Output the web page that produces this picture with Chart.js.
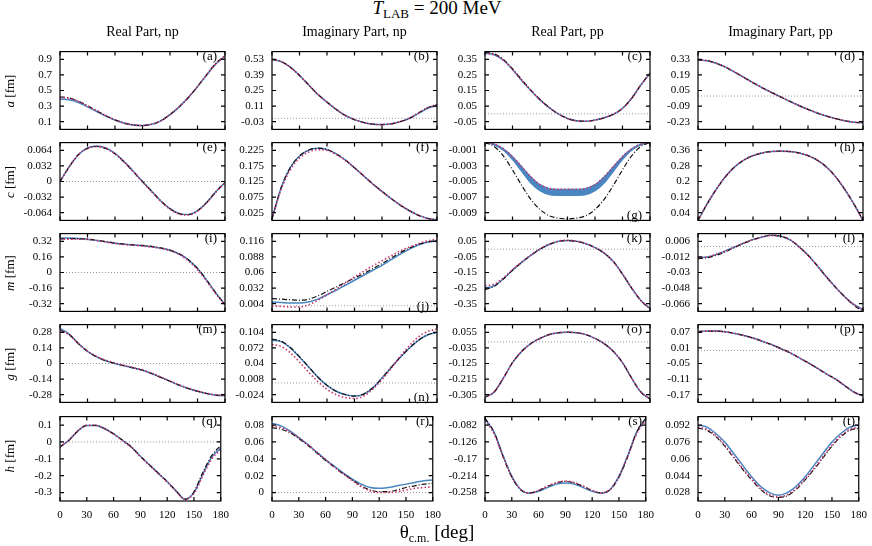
<!DOCTYPE html>
<html>
<head>
<meta charset="utf-8">
<script src="https://cdn.jsdelivr.net/npm/chart.js@4.4.0/dist/chart.umd.min.js"></script>
<style>
  body { margin: 0; background: #fff; width: 872px; height: 546px; position: relative; overflow: hidden;
         font-family: "Liberation Serif", "DejaVu Serif", serif; color: #000; }
  canvas { position: absolute; }
  .lbl { position: absolute; white-space: nowrap; line-height: 1; }
</style>
</head>
<body>
<script>
// angles (deg)
const theta = [0, 10, 20, 30, 40, 50, 60, 70, 80, 90, 100, 110, 120, 130, 140, 150, 160, 170, 180];

// (a) Re a, np
const aTicks = [0.1, 0.3, 0.5, 0.7, 0.9];
const aBlue  = [0.39, 0.38, 0.345, 0.29, 0.23, 0.17, 0.12, 0.08, 0.057, 0.05, 0.065, 0.11, 0.19, 0.29, 0.41, 0.55, 0.70, 0.84, 0.94];
const aRed   = [0.41, 0.40, 0.36, 0.30, 0.24, 0.175, 0.123, 0.082, 0.057, 0.05, 0.065, 0.11, 0.19, 0.29, 0.41, 0.55, 0.70, 0.845, 0.945];
const aBlack = [0.42, 0.405, 0.365, 0.305, 0.24, 0.176, 0.123, 0.082, 0.057, 0.05, 0.065, 0.11, 0.19, 0.29, 0.41, 0.55, 0.705, 0.85, 0.95];
// (b) Im a, np
const bTicks = [-0.03, 0.11, 0.25, 0.39, 0.53];
const bBlue  = [0.53, 0.51, 0.46, 0.385, 0.30, 0.215, 0.145, 0.08, 0.025, -0.012, -0.038, -0.053, -0.057, -0.05, -0.03, 0.0, 0.045, 0.09, 0.112];
const bRed   = [0.53, 0.51, 0.46, 0.385, 0.30, 0.215, 0.145, 0.08, 0.025, -0.012, -0.038, -0.053, -0.057, -0.05, -0.03, 0.0, 0.05, 0.095, 0.12];
const bBlack = [0.53, 0.51, 0.46, 0.385, 0.30, 0.215, 0.145, 0.08, 0.025, -0.012, -0.038, -0.053, -0.057, -0.05, -0.03, 0.0, 0.05, 0.097, 0.125];
// (c) Re a, pp
const cTicks = [-0.05, 0.05, 0.15, 0.25, 0.35];
const cBlue  = [0.39, 0.38, 0.345, 0.285, 0.215, 0.15, 0.09, 0.04, 0.0, -0.03, -0.045, -0.048, -0.04, -0.025, -0.003, 0.035, 0.10, 0.185, 0.26];
const cRed   = cBlue;
const cBlack = [0.395, 0.385, 0.35, 0.29, 0.22, 0.153, 0.092, 0.041, 0.0, -0.03, -0.045, -0.048, -0.04, -0.025, -0.003, 0.035, 0.10, 0.185, 0.262];
// (d) Im a, pp
const dTicks = [-0.23, -0.09, 0.05, 0.19, 0.33];
const dBlue  = [0.325, 0.318, 0.295, 0.26, 0.215, 0.168, 0.12, 0.075, 0.033, -0.007, -0.047, -0.085, -0.12, -0.152, -0.18, -0.203, -0.222, -0.235, -0.24];
const dRed   = dBlue;
const dBlack = dBlue;
// (e) Re c, np
const eTicks = [-0.064, -0.032, 0, 0.032, 0.064];
const eBlue  = [0.0, 0.03, 0.055, 0.069, 0.073, 0.069, 0.058, 0.041, 0.021, 0.0, -0.02, -0.04, -0.056, -0.066, -0.068, -0.06, -0.043, -0.021, -0.002];
const eRed   = [0.0, 0.03, 0.055, 0.068, 0.072, 0.068, 0.057, 0.040, 0.020, -0.001, -0.021, -0.041, -0.057, -0.067, -0.069, -0.061, -0.044, -0.022, -0.003];
const eBlack = [0.0, 0.03, 0.055, 0.068, 0.072, 0.068, 0.057, 0.040, 0.020, 0.0, -0.02, -0.04, -0.056, -0.066, -0.068, -0.06, -0.043, -0.021, -0.002];
// (f) Im c, np
const fTicks = [0.025, 0.075, 0.125, 0.175, 0.225];
const fBlue  = [0.005, 0.105, 0.17, 0.207, 0.226, 0.232, 0.228, 0.214, 0.194, 0.169, 0.143, 0.117, 0.093, 0.07, 0.049, 0.031, 0.016, 0.006, 0.002];
const fRed   = [0.005, 0.10, 0.163, 0.20, 0.22, 0.227, 0.225, 0.212, 0.193, 0.169, 0.143, 0.117, 0.093, 0.07, 0.049, 0.031, 0.016, 0.006, 0.002];
const fBlack = fBlue;
// (g) Re c, pp  (blue band between gTop and gBottom)
const gTicks  = [-0.009, -0.007, -0.005, -0.003, -0.001];
const gTop    = [0, -0.0002, -0.0008, -0.0018, -0.0031, -0.0044, -0.0054, -0.0059, -0.006, -0.006, -0.006, -0.0059, -0.0054, -0.0044, -0.0031, -0.0018, -0.0008, -0.0002, 0];
const gBottom = [0, -0.0003, -0.001, -0.0022, -0.0037, -0.0052, -0.0062, -0.0067, -0.0068, -0.0068, -0.0068, -0.0067, -0.0062, -0.0052, -0.0037, -0.0022, -0.001, -0.0003, 0];
const gRed    = gTop;
const gBlack  = [0, -0.0005, -0.0017, -0.0035, -0.0055, -0.0073, -0.0086, -0.0094, -0.0097, -0.0098, -0.0097, -0.0094, -0.0086, -0.0073, -0.0055, -0.0035, -0.0017, -0.0005, 0];
// (h) Im c, pp
const hTicks = [0.04, 0.12, 0.2, 0.28, 0.36];
const hBlue  = [0, 0.085, 0.16, 0.225, 0.275, 0.31, 0.333, 0.347, 0.354, 0.356, 0.354, 0.347, 0.333, 0.31, 0.275, 0.225, 0.16, 0.085, 0];
const hRed   = hBlue;
const hBlack = hBlue;
// (i) Re m, np
const iTicks = [-0.32, -0.16, 0, 0.16, 0.32];
const iBlue  = [0.355, 0.355, 0.35, 0.343, 0.33, 0.315, 0.30, 0.29, 0.283, 0.276, 0.265, 0.25, 0.228, 0.19, 0.13, 0.04, -0.08, -0.21, -0.33];
const iRed   = [0.34, 0.342, 0.342, 0.34, 0.33, 0.313, 0.298, 0.287, 0.28, 0.272, 0.262, 0.248, 0.225, 0.185, 0.12, 0.03, -0.09, -0.22, -0.335];
const iBlack = [0.345, 0.348, 0.347, 0.343, 0.332, 0.318, 0.303, 0.292, 0.285, 0.278, 0.268, 0.253, 0.23, 0.192, 0.132, 0.042, -0.078, -0.21, -0.33];
// (j) Im m, np
const jTicks = [0.004, 0.032, 0.06, 0.088, 0.116];
const jBlue  = [0.007, 0.006, 0.005, 0.005, 0.007, 0.012, 0.02, 0.028, 0.037, 0.046, 0.055, 0.064, 0.073, 0.083, 0.093, 0.102, 0.11, 0.115, 0.117];
const jRed   = [0.0, -0.001, -0.002, -0.002, 0.002, 0.01, 0.02, 0.03, 0.041, 0.052, 0.062, 0.072, 0.081, 0.09, 0.099, 0.106, 0.112, 0.117, 0.12];
const jBlack = [0.013, 0.012, 0.011, 0.01, 0.012, 0.018, 0.026, 0.034, 0.042, 0.05, 0.058, 0.067, 0.076, 0.086, 0.096, 0.104, 0.111, 0.115, 0.117];
// (k) Re m, pp
const kTicks = [-0.35, -0.25, -0.15, -0.05, 0.05];
const kBlue  = [-0.25, -0.235, -0.19, -0.135, -0.085, -0.04, 0.0, 0.03, 0.05, 0.055, 0.05, 0.035, 0.01, -0.025, -0.08, -0.16, -0.25, -0.33, -0.38];
const kRed   = [-0.235, -0.225, -0.185, -0.132, -0.083, -0.038, 0.002, 0.032, 0.052, 0.057, 0.052, 0.036, 0.01, -0.025, -0.08, -0.16, -0.25, -0.33, -0.38];
const kBlack = [-0.26, -0.24, -0.192, -0.136, -0.085, -0.04, 0.0, 0.03, 0.05, 0.055, 0.05, 0.035, 0.01, -0.025, -0.08, -0.16, -0.25, -0.33, -0.385];
// (l) Im m, pp
const lTicks = [-0.066, -0.048, -0.03, -0.012, 0.006];
const lBlue  = [-0.013, -0.012, -0.009, -0.005, -0.0005, 0.004, 0.008, 0.011, 0.013, 0.012, 0.008, 0.0, -0.01, -0.022, -0.035, -0.047, -0.058, -0.067, -0.073];
const lRed   = lBlue;
const lBlack = [-0.014, -0.013, -0.01, -0.006, -0.001, 0.004, 0.008, 0.011, 0.013, 0.012, 0.008, 0.0, -0.01, -0.022, -0.035, -0.047, -0.058, -0.068, -0.075];
// (m) Re g, np
const mTicks = [-0.28, -0.14, 0, 0.14, 0.28];
const mBlue  = [0.315, 0.265, 0.18, 0.11, 0.06, 0.025, 0.0, -0.02, -0.04, -0.06, -0.09, -0.125, -0.16, -0.195, -0.225, -0.25, -0.27, -0.285, -0.29];
const mRed   = [0.30, 0.258, 0.178, 0.112, 0.064, 0.03, 0.004, -0.017, -0.037, -0.058, -0.088, -0.122, -0.157, -0.192, -0.222, -0.248, -0.268, -0.282, -0.285];
const mBlack = [0.30, 0.26, 0.18, 0.11, 0.06, 0.025, 0.0, -0.02, -0.04, -0.06, -0.09, -0.125, -0.16, -0.195, -0.225, -0.25, -0.27, -0.285, -0.29];
// (n) Im g, np
const nTicks = [-0.024, 0.008, 0.04, 0.072, 0.104];
const nBlue  = [0.088, 0.085, 0.072, 0.053, 0.033, 0.012, -0.005, -0.017, -0.024, -0.027, -0.023, -0.01, 0.01, 0.032, 0.053, 0.072, 0.088, 0.099, 0.104];
const nRed   = [0.079, 0.075, 0.062, 0.043, 0.022, 0.003, -0.013, -0.024, -0.03, -0.032, -0.027, -0.013, 0.007, 0.03, 0.055, 0.077, 0.095, 0.106, 0.111];
const nBlack = [0.09, 0.086, 0.073, 0.054, 0.033, 0.012, -0.005, -0.017, -0.024, -0.027, -0.023, -0.01, 0.01, 0.032, 0.053, 0.072, 0.088, 0.099, 0.104];
// (o) Re g, pp
const oTicks = [-0.305, -0.215, -0.125, -0.035, 0.055];
const oBlue  = [-0.32, -0.29, -0.21, -0.12, -0.055, -0.01, 0.02, 0.042, 0.053, 0.056, 0.053, 0.042, 0.02, -0.01, -0.055, -0.12, -0.21, -0.29, -0.33];
const oRed   = oBlue;
const oBlack = oBlue;
// (p) Im g, pp
const pTicks = [-0.17, -0.11, -0.05, 0.01, 0.07];
const pBlue  = [0.073, 0.075, 0.075, 0.072, 0.066, 0.058, 0.048, 0.036, 0.023, 0.008, -0.008, -0.027, -0.047, -0.068, -0.09, -0.11, -0.135, -0.16, -0.175];
const pRed   = pBlue;
const pBlack = pBlue;
// (q) Re h, np
const qTicks = [-0.3, -0.2, -0.1, 0, 0.1];
const qBlue  = [-0.03, 0.01, 0.065, 0.098, 0.098, 0.078, 0.048, 0.01, -0.03, -0.085, -0.135, -0.185, -0.235, -0.29, -0.34, -0.30, -0.19, -0.09, -0.035];
const qRed   = [-0.03, 0.01, 0.065, 0.098, 0.098, 0.078, 0.046, 0.007, -0.034, -0.088, -0.138, -0.188, -0.238, -0.292, -0.34, -0.305, -0.2, -0.1, -0.045];
const qBlack = [-0.03, 0.01, 0.065, 0.098, 0.098, 0.078, 0.048, 0.01, -0.03, -0.085, -0.135, -0.185, -0.235, -0.29, -0.34, -0.295, -0.18, -0.08, -0.02];
// (r) Im h, np
const rTicks = [0, 0.02, 0.04, 0.06, 0.08];
const rBlue  = [0.082, 0.079, 0.073, 0.065, 0.057, 0.048, 0.039, 0.031, 0.023, 0.016, 0.01, 0.006, 0.005, 0.006, 0.008, 0.01, 0.012, 0.014, 0.015];
const rRed   = [0.079, 0.077, 0.072, 0.065, 0.057, 0.048, 0.039, 0.03, 0.022, 0.014, 0.007, 0.002, 0.0, 0.0, 0.001, 0.003, 0.005, 0.006, 0.007];
const rBlack = [0.077, 0.075, 0.071, 0.064, 0.056, 0.047, 0.038, 0.03, 0.022, 0.015, 0.008, 0.003, 0.001, 0.001, 0.003, 0.006, 0.008, 0.01, 0.011];
// (s) Re h, pp
const sTicks = [-0.258, -0.214, -0.17, -0.126, -0.082];
const sBlue  = [-0.066, -0.10, -0.16, -0.215, -0.25, -0.26, -0.255, -0.245, -0.236, -0.233, -0.236, -0.245, -0.255, -0.26, -0.25, -0.215, -0.16, -0.10, -0.066];
const sRed   = [-0.07, -0.104, -0.163, -0.217, -0.25, -0.259, -0.252, -0.241, -0.232, -0.228, -0.232, -0.241, -0.252, -0.259, -0.25, -0.217, -0.163, -0.104, -0.07];
const sBlack = [-0.064, -0.10, -0.163, -0.218, -0.251, -0.259, -0.253, -0.242, -0.233, -0.229, -0.233, -0.242, -0.253, -0.259, -0.251, -0.218, -0.163, -0.10, -0.064];
// (t) Im h, pp
const tTicks = [0.028, 0.044, 0.06, 0.076, 0.092];
const tBlue  = [0.092, 0.090, 0.084, 0.076, 0.065, 0.054, 0.043, 0.034, 0.028, 0.0255, 0.028, 0.034, 0.043, 0.054, 0.065, 0.076, 0.084, 0.090, 0.092];
const tRed   = [0.090, 0.088, 0.082, 0.073, 0.062, 0.051, 0.041, 0.032, 0.026, 0.024, 0.026, 0.032, 0.041, 0.051, 0.062, 0.073, 0.082, 0.088, 0.090];
const tBlack = [0.089, 0.087, 0.081, 0.072, 0.061, 0.050, 0.040, 0.031, 0.025, 0.0235, 0.025, 0.031, 0.040, 0.050, 0.061, 0.072, 0.081, 0.087, 0.089];

const xTicks = [0, 30, 60, 90, 120, 150, 180];
const colTitles = ["Real Part, np", "Imaginary Part, np", "Real Part, pp", "Imaginary Part, pp"];
const rowTitles = ["a", "c", "m", "g", "h"];

const panels = [
  { tag: "a", min: 0, max: 1, ticks: aTicks, blue: aBlue, red: aRed, black: aBlack },
  { tag: "b", min: -0.1, max: 0.6, ticks: bTicks, blue: bBlue, red: bRed, black: bBlack },
  { tag: "c", min: -0.1, max: 0.4, ticks: cTicks, blue: cBlue, red: cRed, black: cBlack },
  { tag: "d", min: -0.3, max: 0.4, ticks: dTicks, blue: dBlue, red: dRed, black: dBlack },
  { tag: "e", min: -0.08, max: 0.08, ticks: eTicks, blue: eBlue, red: eRed, black: eBlack },
  { tag: "f", min: 0, max: 0.25, ticks: fTicks, blue: fBlue, red: fRed, black: fBlack },
  { tag: "g", min: -0.01, max: 0, ticks: gTicks, blue: gTop, band: gBottom, red: gRed, black: gBlack, low: true },
  { tag: "h", min: 0, max: 0.4, ticks: hTicks, blue: hBlue, red: hRed, black: hBlack },
  { tag: "i", min: -0.4, max: 0.4, ticks: iTicks, blue: iBlue, red: iRed, black: iBlack },
  { tag: "j", min: -0.01, max: 0.13, ticks: jTicks, blue: jBlue, red: jRed, black: jBlack, low: true },
  { tag: "k", min: -0.4, max: 0.1, ticks: kTicks, blue: kBlue, red: kRed, black: kBlack },
  { tag: "l", min: -0.075, max: 0.015, ticks: lTicks, blue: lBlue, red: lRed, black: lBlack },
  { tag: "m", min: -0.35, max: 0.35, ticks: mTicks, blue: mBlue, red: mRed, black: mBlack },
  { tag: "n", min: -0.04, max: 0.12, ticks: nTicks, blue: nBlue, red: nRed, black: nBlack, low: true },
  { tag: "o", min: -0.35, max: 0.1, ticks: oTicks, blue: oBlue, red: oRed, black: oBlack },
  { tag: "p", min: -0.2, max: 0.1, ticks: pTicks, blue: pBlue, red: pRed, black: pBlack },
  { tag: "q", min: -0.35, max: 0.15, ticks: qTicks, blue: qBlue, red: qRed, black: qBlack },
  { tag: "r", min: -0.01, max: 0.09, ticks: rTicks, blue: rBlue, red: rRed, black: rBlack },
  { tag: "s", min: -0.28, max: -0.06, ticks: sTicks, blue: sBlue, red: sRed, black: sBlack },
  { tag: "t", min: 0.02, max: 0.1, ticks: tTicks, blue: tBlue, red: tRed, black: tBlack },
];

const BLUE = "#4a86c2";
const RED = "#c8346e";
const BLACK = "#111";

// layout
const colLeft = [60, 272, 485, 698];
const rowTop = [45, 136, 227, 318, 410];
const plotW = 165, plotH = 91, axisW = 50, padT = 8, padB = 8, padR = 12;

Chart.defaults.font.family = "'Liberation Serif', 'DejaVu Serif', serif";
Chart.defaults.font.size = 11;
Chart.defaults.color = "#000";

function addLabel(html, x, y, size, anchor, extra) {
  const d = document.createElement("div");
  d.className = "lbl";
  d.innerHTML = html;
  d.style.fontSize = size + "px";
  d.style.left = x + "px";
  d.style.top = y + "px";
  d.style.transform = (anchor || "translate(-50%,-50%)") + (extra || "");
  document.body.append(d);
}

const pts = arr => theta.map((t, k) => ({ x: t, y: arr[k] }));

// frame, mirrored inward ticks and zero line
const framePlugin = {
  id: "frame",
  beforeDatasetsDraw(chart) {
    const { ctx, chartArea: a, scales: { y } } = chart;
    if (y.min < 0 && y.max > 0) {
      const py = y.getPixelForValue(0);
      ctx.save();
      ctx.strokeStyle = "#9a9a9a";
      ctx.lineWidth = 1;
      ctx.setLineDash([1, 2]);
      ctx.beginPath();
      ctx.moveTo(a.left, py);
      ctx.lineTo(a.right, py);
      ctx.stroke();
      ctx.restore();
    }
  },
  afterDraw(chart) {
    const { ctx, chartArea: a, scales: { x, y } } = chart;
    ctx.save();
    ctx.strokeStyle = "#000";
    ctx.lineWidth = 1.2;
    ctx.strokeRect(a.left, a.top, a.width, a.height);
    ctx.beginPath();
    x.ticks.forEach(t => {
      const px = x.getPixelForValue(t.value);
      ctx.moveTo(px, a.bottom); ctx.lineTo(px, a.bottom - 4);
      ctx.moveTo(px, a.top); ctx.lineTo(px, a.top + 4);
    });
    y.ticks.forEach(t => {
      const py = y.getPixelForValue(t.value);
      ctx.moveTo(a.left, py); ctx.lineTo(a.left + 4, py);
      ctx.moveTo(a.right, py); ctx.lineTo(a.right - 4, py);
    });
    ctx.stroke();
    ctx.restore();
  }
};

panels.forEach((p, i) => {
  const row = Math.floor(i / 4), col = i % 4;
  const last = row === 4;
  const xH = last ? 24 : 0;
  const w = axisW + plotW + padR, h = padT + plotH + xH + padB;
  const cv = document.createElement("canvas");
  cv.width = w; cv.height = h;
  cv.style.left = (colLeft[col] - axisW) + "px";
  cv.style.top = (rowTop[row] - padT) + "px";
  cv.style.width = w + "px"; cv.style.height = h + "px";
  document.body.append(cv);

  const line = (arr, color, width, dash) => ({
    data: pts(arr), borderColor: color, borderWidth: width, borderDash: dash,
    pointRadius: 0, cubicInterpolationMode: "monotone", fill: false
  });
  const datasets = [
    line(p.red, RED, 1.6, [1.5, 2.2]),
    line(p.black, BLACK, 1.2, [5, 2, 1, 2]),
  ];
  if (p.band) {
    datasets.push(Object.assign(line(p.blue, BLUE, 1.2, []), { fill: "+1", backgroundColor: BLUE }));
    datasets.push(line(p.band, BLUE, 1.2, []));
  } else {
    datasets.push(line(p.blue, BLUE, 1.5, []));
  }

  new Chart(cv, {
    type: "line",
    data: { datasets },
    options: {
      responsive: false,
      animation: false,
      events: [],
      layout: { padding: { left: 0, right: padR, top: padT, bottom: padB } },
      plugins: { legend: { display: false }, tooltip: { enabled: false } },
      scales: {
        x: {
          type: "linear", min: 0, max: 180,
          grid: { display: false, drawTicks: false }, border: { display: false },
          afterBuildTicks: s => { s.ticks = xTicks.map(v => ({ value: v })); },
          afterFit: s => { s.height = xH; },
          ticks: { display: last, padding: 8, maxRotation: 0, autoSkip: false, callback: v => String(v) }
        },
        y: {
          min: p.min, max: p.max,
          grid: { display: false, drawTicks: false }, border: { display: false },
          afterBuildTicks: s => { s.ticks = p.ticks.map(v => ({ value: v })); },
          afterFit: s => { s.width = axisW; },
          ticks: { padding: 8, autoSkip: false, callback: v => String(v) }
        }
      }
    },
    plugins: [framePlugin]
  });

  // panel tag
  const right = colLeft[col] + plotW - 8;
  const ty = p.low ? rowTop[row] + 78 : rowTop[row] + 9.5;
  addLabel("(" + p.tag + ")", right, ty, 13, "translate(-100%,-50%)");
});

// titles
addLabel("<i>T</i><sub style='font-size:13px'>LAB</sub> = 200 MeV", 437, 9, 19);
colTitles.forEach((t, c) => addLabel(t, colLeft[c] + plotW / 2, 32, 14));
rowTitles.forEach((t, r) => addLabel("<i>" + t + "</i> [fm]", 9, rowTop[r] + plotH / 2, 13, "translate(-50%,-50%)", " rotate(-90deg)"));
addLabel("θ<sub style='font-size:12px'>c.m.</sub> [deg]", 437, 533, 19);
</script>
</body>
</html>
